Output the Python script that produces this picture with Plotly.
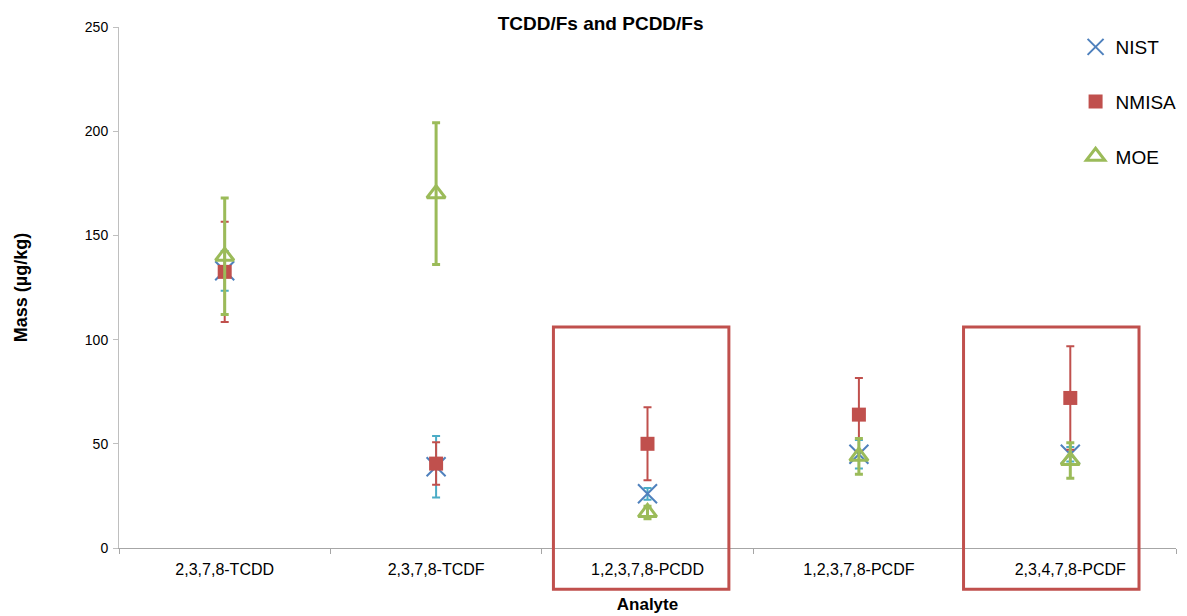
import plotly.graph_objects as go

# Analytes on the category axis
analytes = ["2,3,7,8-TCDD", "2,3,7,8-TCDF", "1,2,3,7,8-PCDD", "1,2,3,7,8-PCDF", "2,3,4,7,8-PCDF"]

# Mass fractions (µg/kg) and expanded uncertainties per laboratory
nist_values = [133, 39, 26, 45, 45]
nist_uncert = [9.5, 14.8, 2.8, 6.8, 3.5]

nmisa_values = [132.5, 40.5, 50, 64, 72]
nmisa_uncert = [24, 10.2, 17.5, 17.6, 24.8]

moe_values = [140, 170, 17, 44, 42]
moe_uncert = [28, 34, 3, 8.6, 8.5]

# Analytes highlighted with a frame
highlighted = ["1,2,3,7,8-PCDD", "2,3,4,7,8-PCDF"]

FONT = "Liberation Sans, Arial, sans-serif"
BLUE = "#4F81BD"
LIGHT_BLUE = "#4BACC6"
RED = "#C0504D"
GREEN = "#9BBB59"

fig = go.Figure()

fig.add_trace(go.Scatter(
    x=analytes, y=nist_values, name="NIST", mode="markers",
    legendgroup="nist",
    marker=dict(symbol="x-thin", size=19, line=dict(color=BLUE, width=2), color=BLUE),
    error_y=dict(type="data", array=nist_uncert, visible=True,
                 color=LIGHT_BLUE, thickness=2, width=4),
))

fig.add_trace(go.Scatter(
    x=analytes, y=nmisa_values, name="NMISA", mode="markers",
    legendgroup="nmisa",
    marker=dict(symbol="square", size=14, color=RED),
    error_y=dict(type="data", array=nmisa_uncert, visible=True,
                 color=RED, thickness=2, width=4),
))

fig.add_trace(go.Scatter(
    x=analytes, y=moe_values, name="MOE", mode="markers",
    legendgroup="moe",
    marker=dict(symbol="triangle-up-open", size=16, color=GREEN,
                line=dict(color=GREEN, width=3)),
    error_y=dict(type="data", array=moe_uncert, visible=True,
                 color=GREEN, thickness=3, width=4),
))

# Frames around the highlighted analytes
frame_offsets = {"1,2,3,7,8-PCDD": (-0.445, 0.385), "2,3,4,7,8-PCDF": (-0.505, 0.325)}
for name in highlighted:
    idx = analytes.index(name)
    left, right = frame_offsets[name]
    fig.add_shape(
        type="rect", xref="x", yref="paper",
        x0=idx + left, x1=idx + right, y0=-0.079, y1=0.424,
        line=dict(color=RED, width=3), fillcolor="rgba(0,0,0,0)",
    )

fig.update_layout(
    width=1187, height=616,
    paper_bgcolor="white", plot_bgcolor="white",
    margin=dict(l=119, r=11, t=27, b=68, autoexpand=False),
    font=dict(family=FONT, color="#404040"),
    title=dict(text="<b>TCDD/Fs and PCDD/Fs</b>", x=0.506, xref="container",
               y=0.962, yref="container", yanchor="middle",
               font=dict(family=FONT, size=19, color="#000000")),
    showlegend=True,
    legend=dict(x=0.905, y=0.998, xanchor="left", yanchor="top",
                font=dict(family=FONT, size=19, color="#000000"),
                tracegroupgap=27, itemwidth=30, bgcolor="rgba(0,0,0,0)"),
    xaxis=dict(
        type="category", range=[-0.5, 4.5],
        showline=True, linecolor="#A6A6A6", linewidth=1,
        ticks="outside", ticklen=5, tickcolor="#A6A6A6", tickson="boundaries",
        showgrid=False, zeroline=False, ticklabelstandoff=7,
        tickfont=dict(family=FONT, size=16, color="#000000"),
        title=dict(text="<b>Analyte</b>", font=dict(family=FONT, size=17, color="#000000"),
                   standoff=20),
    ),
    yaxis=dict(
        range=[0, 250], dtick=50,
        showline=True, linecolor="#BFBFBF", linewidth=1,
        ticks="outside", ticklen=5, tickcolor="#BFBFBF",
        showgrid=False, zeroline=False, ticklabelstandoff=2,
        tickfont=dict(family=FONT, size=14, color="#000000"),
        title=dict(text="<b>Mass (µg/kg)</b>", font=dict(family=FONT, size=18, color="#000000"),
                   standoff=52),
    ),
)

fig.write_html("out.html")
